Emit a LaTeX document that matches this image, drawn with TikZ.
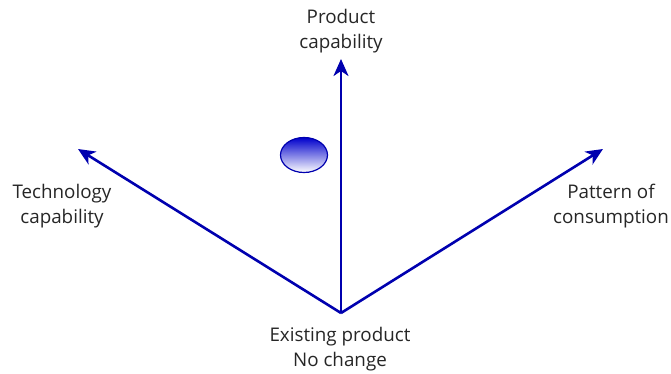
\documentclass[tikz,border=0pt]{standalone}
\usepackage{fontspec}
\setmainfont{Open Sans}
\usetikzlibrary{arrows.meta,shapes.geometric}
\definecolor{arrowblue}{RGB}{0,0,175}
\begin{document}
\begin{tikzpicture}[x=1pt,y=-1pt,
  axis/.style={draw=arrowblue,line width=2.6pt,-{Stealth[length=17pt,width=15pt,inset=5pt]}},
  lbl/.style={font=\fontsize{18.8}{24.5}\selectfont,text=black!85,align=center,inner sep=0pt}]
\useasboundingbox (0,0) rectangle (671,373);
\coordinate (o) at (341,313);
\coordinate (top) at (341,59);
\coordinate (left) at (78,149);
\coordinate (right) at (603,149);
\draw[axis] (o) -- (top);
\draw[axis] (o) -- (left);
\draw[axis] (o) -- (right);
\node[lbl] (tp) at (341,31) {Product\\capability};
\node[lbl] (tl) at (62,206) {Technology\\capability};
\node[lbl] (tr) at (611,206) {Pattern of\\consumption};
\node[lbl] (bo) at (340,349) {Existing product\\No change};
\node[draw=arrowblue,line width=1.2pt,ellipse,minimum width=47pt,minimum height=35pt,inner sep=0pt,
  top color=blue!80!black,bottom color=white] (e) at (304,155) {};
\end{tikzpicture}
\end{document}
